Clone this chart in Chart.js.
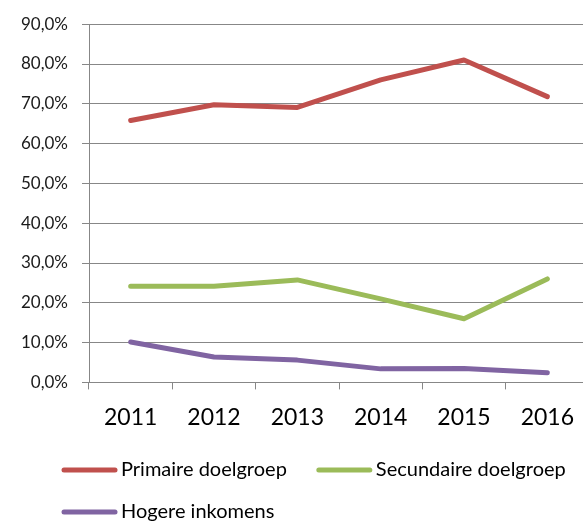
<!DOCTYPE html>
<html>
<head>
<meta charset="utf-8">
<script src="https://cdn.jsdelivr.net/npm/chart.js@4"></script>
<style>
  html, body { margin: 0; padding: 0; background: #fff; overflow: hidden; }
  #wrap { width: 589px; height: 522px; position: relative; }
</style>
</head>
<body>
<div id="wrap"><canvas id="chart"></canvas></div>
<script>
const years = ["2011", "2012", "2013", "2014", "2015", "2016"];
const primair = [65.8, 69.75, 69.1, 76.0, 81.0, 71.8];
const secundair = [24.15, 24.15, 25.75, 21.0, 16.0, 26.0];
const hoger = [10.15, 6.4, 5.6, 3.4, 3.5, 2.4];
const seriesNames = ["Primaire doelgroep", "Secundaire doelgroep", "Hogere inkomens"];
const seriesColors = ["#C0504D", "#9BBB59", "#8064A2"];

const gridColor = "#878787";
const font = "Lato";

function makeSet(i, data) {
    return {
        label: seriesNames[i],
        data: data,
        borderColor: seriesColors[i],
        backgroundColor: seriesColors[i],
        borderWidth: 5,
        borderCapStyle: "round",
        borderJoinStyle: "round",
        pointRadius: 0,
        tension: 0
    };
}

// Excel style legend: wraps into rows, left aligned under the plot
const excelLegend = {
    id: "excelLegend",
    afterDraw(chart) {
        const c = chart.ctx;
        const startX = 62, lineLen = 55, textGap = 4, itemGap = 30;
        let x = startX, y = 470;
        c.save();
        c.font = "20px " + font;
        c.textBaseline = "middle";
        c.textAlign = "left";
        chart.data.datasets.forEach(function (ds) {
            const w = lineLen + textGap + c.measureText(ds.label).width;
            if (x > startX && x + w > chart.width - 10) {
                x = startX;
                y += 42;
            }
            c.strokeStyle = ds.borderColor;
            c.lineWidth = 5;
            c.lineCap = "round";
            c.beginPath();
            c.moveTo(x + 2, y);
            c.lineTo(x + lineLen - 2, y);
            c.stroke();
            c.fillStyle = "#000";
            c.fillText(ds.label, x + lineLen + textGap, y);
            x += w + itemGap;
        });
        c.restore();
    }
};

const ctx = document.getElementById("chart").getContext("2d");

new Chart(ctx, {
    type: "line",
    data: {
        labels: years,
        datasets: [makeSet(0, primair), makeSet(1, secundair), makeSet(2, hoger)]
    },
    plugins: [excelLegend],
    options: {
        responsive: true,
        maintainAspectRatio: false,
        animation: false,
        layout: {
            padding: { left: 0, right: 0, top: 11, bottom: 77 }
        },
        scales: {
            x: {
                offset: true,
                grid: {
                    offset: true,
                    drawOnChartArea: false,
                    drawTicks: true,
                    tickLength: 7,
                    color: gridColor
                },
                border: { color: gridColor },
                ticks: {
                    color: "#000",
                    font: { family: font, size: 23 },
                    padding: 14,
                    maxRotation: 0
                }
            },
            y: {
                min: 0,
                max: 90,
                grid: {
                    color: gridColor,
                    tickLength: 7
                },
                border: { color: gridColor },
                ticks: {
                    stepSize: 10,
                    color: "#1a1a1a",
                    font: { family: font, size: 17 },
                    padding: 14,
                    callback: function (v) {
                        return v.toFixed(1).replace(".", ",") + "%";
                    }
                },
                afterFit: function (scale) {
                    scale.width = 89;
                }
            }
        },
        plugins: {
            legend: { display: false },
            tooltip: { enabled: false }
        }
    }
});
</script>
</body>
</html>
